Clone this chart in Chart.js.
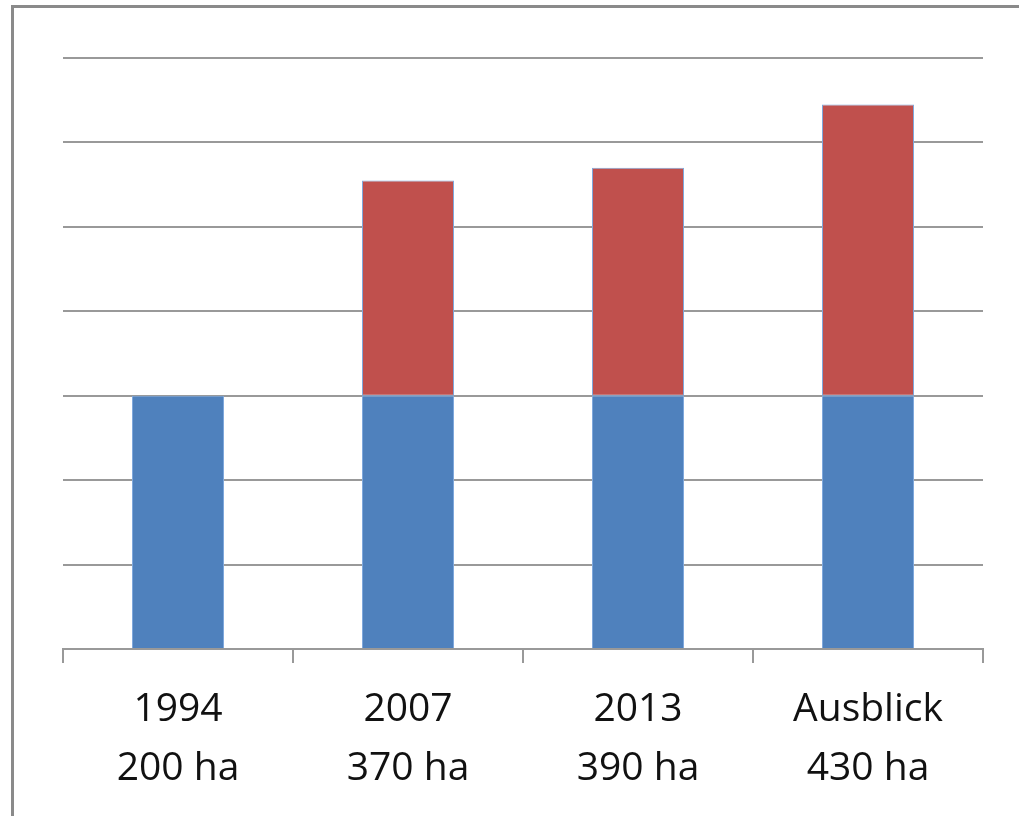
<!DOCTYPE html>
<html lang="de">
  <head>
    <meta charset="UTF-8" />
    <title>Fläche</title>
    <script src="https://cdn.jsdelivr.net/npm/chart.js"></script>
    <style>
      html, body { margin: 0; padding: 0; background: #fff; overflow: hidden; }
      #wrap { position: relative; width: 1019px; height: 816px; }
      #frame {
        position: absolute; left: 11px; top: 5px; width: 1100px; height: 900px;
        border-left: 3px solid #8a8a8a; border-top: 3px solid #8a8a8a;
      }
      canvas { position: absolute; left: 0; top: 0; }
    </style>
  </head>
  <body>
    <div id="wrap">
      <div id="frame"></div>
      <canvas id="chart" width="1019" height="816"></canvas>
    </div>

    <script>
      // data
      const categories = [["1994", "200 ha"], ["2007", "370 ha"], ["2013", "390 ha"], ["Ausblick", "430 ha"]];
      const baseArea = [200, 200, 200, 200];
      const addedArea = [null, 170, 180, 230];
      const yTicks = [0, 200 / 3, 400 / 3, 200, 800 / 3, 1000 / 3, 400, 1400 / 3];

      const ctx = document.getElementById("chart");

      new Chart(ctx, {
        type: "bar",
        data: {
          labels: categories,
          datasets: [
            {
              label: "Bestand",
              data: baseArea,
              backgroundColor: "#4f81bd",
              borderColor: "#7fa8dc",
              borderWidth: 1,
            },
            {
              label: "Erweiterung",
              data: addedArea,
              backgroundColor: "#c0504d",
              borderColor: "#7fa8dc",
              borderWidth: 1,
              borderSkipped: false,
            },
          ],
        },
        options: {
          responsive: false,
          animation: false,
          layout: { padding: { left: 63, right: 36, top: 58, bottom: 0 } },
          datasets: { bar: { categoryPercentage: 1, barPercentage: 0.4 } },
          plugins: {
            legend: { display: false },
            tooltip: { enabled: false },
          },
          scales: {
            x: {
              stacked: true,
              border: { display: true, color: "#999", width: 2 },
              grid: {
                drawOnChartArea: false,
                drawTicks: true,
                tickLength: 14,
                tickColor: "#999",
                lineWidth: 2,
              },
              ticks: {
                color: "#111",
                padding: 18,
                font: { family: "'Open Sans'", size: 39, lineHeight: 1.5 },
              },
            },
            y: {
              stacked: true,
              min: 0,
              max: 1400 / 3,
              afterBuildTicks: (scale) => {
                scale.ticks = yTicks.map((v) => ({ value: v }));
              },
              border: { display: false },
              grid: { color: "#999", lineWidth: 2, drawTicks: false },
              ticks: { display: false },
            },
          },
        },
      });
    </script>
  </body>
</html>
